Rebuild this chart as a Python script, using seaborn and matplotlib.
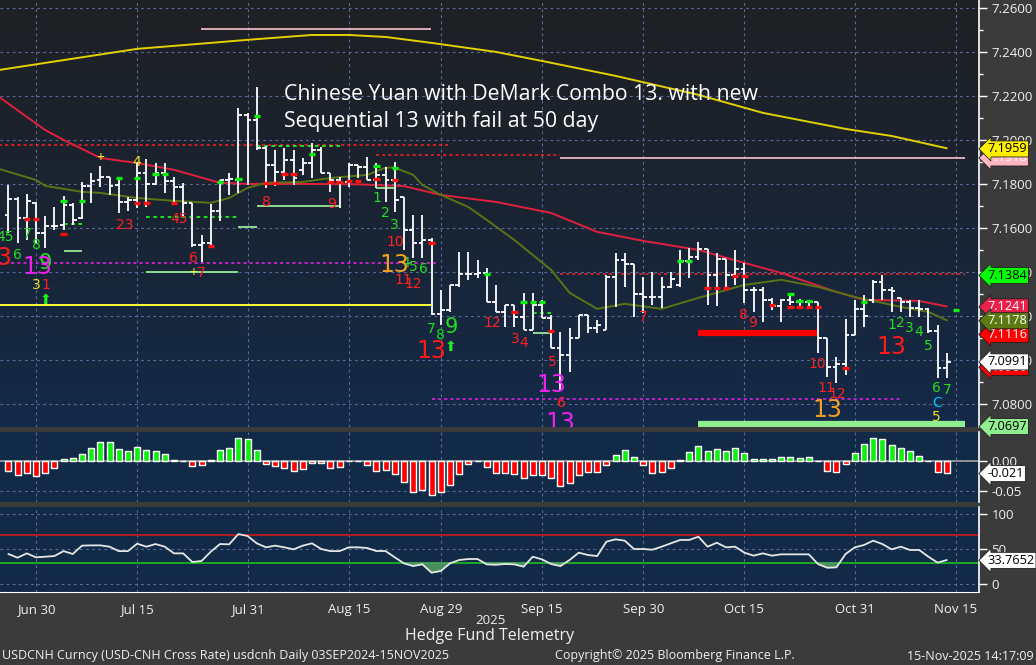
import numpy as np
import pandas as pd
import matplotlib
matplotlib.use("Agg")
import matplotlib.pyplot as plt
import seaborn as sns
from matplotlib.colors import LinearSegmentedColormap

# ---------------- data ----------------
dates = pd.bdate_range("2025-06-25", "2025-11-14")

opens = [7.1659, 7.1732, 7.1645, 7.1714, 7.1577, 7.1609, 7.1614, 7.1705, 7.1645, 7.1791,
         7.1818, 7.1832, 7.1796, 7.1718, 7.1727, 7.1850, 7.1800, 7.1850, 7.1814, 7.1786,
         7.1714, 7.1523, 7.1532, 7.1677, 7.1818, 7.1818, 7.2114, 7.2091, 7.1964, 7.1886,
         7.1855, 7.1909, 7.1864, 7.1895, 7.1955, 7.1850, 7.1818, 7.1809, 7.1886, 7.1877,
         7.1818, 7.1841, 7.1818, 7.1741, 7.1591, 7.1532, 7.1545, 7.1209, 7.1227, 7.1341,
         7.1391, 7.1391, 7.1395, 7.1264, 7.1218, 7.1250, 7.1195, 7.1136, 7.1250, 7.1191,
         7.1055, 7.1023, 7.1100, 7.1205, 7.1145, 7.1136, 7.1377, 7.1455, 7.1436, 7.1300,
         7.1286, 7.1286, 7.1332, 7.1341, 7.1450, 7.1468, 7.1505, 7.1386, 7.1459, 7.1386,
         7.1414, 7.1318, 7.1318, 7.1273, 7.1245, 7.1273, 7.1264, 7.1264, 7.1264, 7.1100,
         7.0968, 7.0982, 7.1114, 7.1232, 7.1273, 7.1355, 7.1318, 7.1282, 7.1264, 7.1236,
         7.1232, 7.1132, 7.0964]
highs = [7.1796, 7.1741, 7.1755, 7.1718, 7.1655, 7.1696, 7.1746, 7.1714, 7.1809, 7.1850,
         7.1882, 7.1832, 7.1827, 7.1741, 7.1900, 7.1914, 7.1895, 7.1895, 7.1832, 7.1805,
         7.1714, 7.1568, 7.1709, 7.1818, 7.1850, 7.2145, 7.2123, 7.2241, 7.1973, 7.1955,
         7.1964, 7.1955, 7.1918, 7.1986, 7.1968, 7.1850, 7.1832, 7.1895, 7.1886, 7.1923,
         7.1895, 7.1877, 7.1900, 7.1741, 7.1659, 7.1659, 7.1555, 7.1318, 7.1341, 7.1491,
         7.1491, 7.1455, 7.1418, 7.1341, 7.1250, 7.1250, 7.1305, 7.1305, 7.1273, 7.1205,
         7.1127, 7.1145, 7.1205, 7.1205, 7.1182, 7.1386, 7.1486, 7.1486, 7.1436, 7.1377,
         7.1400, 7.1377, 7.1400, 7.1500, 7.1509, 7.1536, 7.1505, 7.1486, 7.1459, 7.1500,
         7.1441, 7.1332, 7.1332, 7.1282, 7.1277, 7.1305, 7.1277, 7.1273, 7.1264, 7.1100,
         7.1014, 7.1186, 7.1273, 7.1296, 7.1364, 7.1386, 7.1332, 7.1282, 7.1273, 7.1273,
         7.1236, 7.1159, 7.1032]
lows = [7.1577, 7.1532, 7.1545, 7.1532, 7.1509, 7.1591, 7.1591, 7.1614, 7.1641, 7.1714,
        7.1786, 7.1750, 7.1668, 7.1677, 7.1691, 7.1696, 7.1796, 7.1759, 7.1718, 7.1655,
        7.1514, 7.1445, 7.1514, 7.1632, 7.1750, 7.1759, 7.1796, 7.1955, 7.1782, 7.1791,
        7.1818, 7.1796, 7.1841, 7.1827, 7.1850, 7.1764, 7.1691, 7.1786, 7.1827, 7.1818,
        7.1782, 7.1718, 7.1673, 7.1500, 7.1464, 7.1464, 7.1205, 7.1159, 7.1218, 7.1332,
        7.1364, 7.1373, 7.1264, 7.1218, 7.1150, 7.1150, 7.1136, 7.1136, 7.1191, 7.1055,
        7.0864, 7.0946, 7.1100, 7.1123, 7.1123, 7.1136, 7.1241, 7.1332, 7.1195, 7.1214,
        7.1250, 7.1236, 7.1327, 7.1332, 7.1373, 7.1455, 7.1250, 7.1245, 7.1332, 7.1341,
        7.1259, 7.1218, 7.1173, 7.1227, 7.1173, 7.1250, 7.1241, 7.1241, 7.1032, 7.0923,
        7.0896, 7.0932, 7.1114, 7.1150, 7.1259, 7.1273, 7.1218, 7.1218, 7.1195, 7.1195,
        7.1123, 7.0918, 7.0918]
closes = [7.1732, 7.1645, 7.1723, 7.1577, 7.1609, 7.1609, 7.1705, 7.1636, 7.1791, 7.1814,
          7.1832, 7.1791, 7.1718, 7.1727, 7.1850, 7.1800, 7.1850, 7.1814, 7.1786, 7.1714,
          7.1523, 7.1532, 7.1677, 7.1818, 7.1823, 7.2114, 7.2091, 7.1964, 7.1886, 7.1855,
          7.1909, 7.1827, 7.1895, 7.1955, 7.1850, 7.1818, 7.1809, 7.1886, 7.1877, 7.1818,
          7.1841, 7.1818, 7.1727, 7.1591, 7.1532, 7.1545, 7.1209, 7.1227, 7.1341, 7.1391,
          7.1391, 7.1395, 7.1264, 7.1218, 7.1250, 7.1195, 7.1136, 7.1250, 7.1191, 7.1055,
          7.1023, 7.1100, 7.1205, 7.1145, 7.1159, 7.1377, 7.1455, 7.1436, 7.1300, 7.1286,
          7.1286, 7.1332, 7.1368, 7.1450, 7.1468, 7.1505, 7.1386, 7.1459, 7.1386, 7.1414,
          7.1318, 7.1318, 7.1273, 7.1245, 7.1273, 7.1264, 7.1264, 7.1264, 7.1100, 7.0968,
          7.0982, 7.1114, 7.1232, 7.1200, 7.1355, 7.1318, 7.1314, 7.1264, 7.1236, 7.1232,
          7.1132, 7.0964, 7.0991]

# moving averages (bar index, value)
ma200_idx = [-1, 4, 14, 22, 26, 33, 37, 41, 46, 53, 58, 66, 75, 82, 91, 96, 102]
ma200 = [7.2318, 7.2350, 7.2414, 7.2441, 7.2455, 7.2477, 7.2477, 7.2468, 7.2441, 7.2400,
         7.2359, 7.2291, 7.2205, 7.2123, 7.2050, 7.2018, 7.1962]
ma100_idx = [-1, 2, 4, 6, 10, 14, 18, 23, 26, 32, 38, 43, 47, 53, 59, 64, 69, 75, 80, 84,
             90, 93, 99, 102]
ma100 = [7.2195, 7.2105, 7.2045, 7.2000, 7.1918, 7.1895, 7.1864, 7.1805, 7.1800, 7.1800,
         7.1798, 7.1790, 7.1750, 7.1718, 7.1668, 7.1582, 7.1541, 7.1500, 7.1441, 7.1395,
         7.1309, 7.1273, 7.1268, 7.1243]
ma50_idx = [-1, 3, 4, 8, 10, 14, 18, 22, 24, 26, 28, 32, 35, 39, 41, 42, 44, 45, 47, 50,
            52, 55, 59, 61, 64, 67, 71, 75, 80, 84, 88, 92, 97, 100, 102]
ma50 = [7.1868, 7.1818, 7.1791, 7.1764, 7.1759, 7.1736, 7.1723, 7.1714, 7.1736, 7.1782,
        7.1805, 7.1809, 7.1827, 7.1841, 7.1874, 7.1874, 7.1841, 7.1795, 7.1750, 7.1695,
        7.1636, 7.1545, 7.1409, 7.1305, 7.1232, 7.1255, 7.1232, 7.1282, 7.1341, 7.1364,
        7.1332, 7.1286, 7.1241, 7.1218, 7.1180]

macd_hist = [-0.0161, -0.0233, -0.0206, -0.0244, -0.0206, -0.0111, 0.0033, 0.0050, 0.0117, 0.0211,
             0.0317, 0.0317, 0.0200, 0.0167, 0.0233, 0.0183, 0.0167, 0.0117, 0.0017, 0.0005,
             -0.0078, -0.0061, 0.0017, 0.0183, 0.0217, 0.0383, 0.0367, 0.0183, -0.0044, -0.0078,
             -0.0111, -0.0161, -0.0128, -0.0028, -0.0028, -0.0111, -0.0094, 0.0, 0.0, -0.0061,
             -0.0161, -0.0144, -0.0211, -0.0344, -0.0511, -0.0478, -0.0567, -0.0511, -0.0394, -0.0211,
             -0.0044, 0.0, -0.0094, -0.0194, -0.0194, -0.0211, -0.0278, -0.0228, -0.0228, -0.0278,
             -0.0411, -0.0361, -0.0228, -0.0178, -0.0178, -0.0061, 0.0100, 0.0183, 0.0067, -0.0061,
             -0.0194, -0.0178, -0.0111, 0.0017, 0.0150, 0.0250, 0.0167, 0.0200, 0.0167, 0.0217,
             0.0133, 0.0033, 0.0033, 0.0033, 0.0067, 0.0067, 0.0050, 0.0067, 0.0, -0.0161,
             -0.0178, -0.0044, 0.0133, 0.0283, 0.0383, 0.0367, 0.0267, 0.0217, 0.0167, 0.0083,
             0.0, -0.0178, -0.0194]

rsi = [42.9, 37.6, 43.8, 38.1, 39.0, 40.0, 47.0, 42.9, 54.8, 55.2, 55.2, 53.3, 47.0, 47.0, 57.6,
       53.3, 57.1, 53.3, 43.8, 43.8, 31.4, 32.9, 46.2, 57.1, 56.7, 71.4, 68.6, 58.1, 52.4, 54.8,
       52.4, 49.5, 54.8, 58.1, 50.0, 47.0, 47.0, 52.4, 52.4, 51.4, 47.1, 47.1, 38.1, 29.5, 25.7,
       28.1, 16.2, 18.6, 29.5, 34.3, 35.7, 35.7, 28.1, 27.6, 28.6, 28.1, 24.8, 39.0, 35.2, 28.6,
       25.7, 34.3, 44.8, 41.4, 40.0, 60.5, 63.8, 61.9, 50.0, 50.0, 49.0, 53.3, 58.1, 62.9, 62.9,
       67.6, 53.3, 59.0, 52.4, 53.3, 44.8, 40.5, 43.8, 40.5, 42.4, 42.4, 42.4, 42.4, 28.6, 23.3,
       23.8, 42.9, 52.4, 55.7, 61.9, 57.1, 49.5, 53.3, 48.6, 48.6, 39.0, 30.5, 34.3]

tick_dates = ["2025-06-30", "2025-07-15", "2025-07-31", "2025-08-15", "2025-08-29",
              "2025-09-15", "2025-09-30", "2025-10-15", "2025-10-31", "2025-11-15"]
tick_labels = ["Jun 30", "Jul 15", "Jul 31", "Aug 15", "Aug 29",
               "Sep 15", "Sep 30", "Oct 15", "Oct 31", "Nov 15"]

# DeMark counts: (bar index, price, label)
counts_green = [(-0.4, 7.1559, "45"), (2.0, 7.1573, "7"), (3.1, 7.1523, "8"), (1.0, 7.1477, "6"),
                (40.1, 7.1736, "1"), (41.0, 7.1668, "2"), (41.9, 7.1614, "3"), (43.2, 7.1441, "4"),
                (44.0, 7.1423, "5"), (45.1, 7.1414, "6"), (46.0, 7.1141, "7"), (47.0, 7.1114, "8"),
                (96.0, 7.1159, "1"), (96.9, 7.1168, "2"), (97.9, 7.1145, "3"), (98.9, 7.1127, "4"),
                (100.0, 7.1064, "5"), (100.9, 7.0873, "6"), (102.0, 7.0864, "7")]
nines_green = [(4.0, 7.1441, "9"), (48.1, 7.1150, "9")]
counts_red = [(4.1, 7.1341, "1"), (12.6, 7.1614, "23"), (18.5, 7.1641, "45"), (20.1, 7.1464, "6"),
              (21.0, 7.1395, "7"), (28.1, 7.1718, "8"), (35.1, 7.1709, "9"), (42.0, 7.1536, "10"),
              (42.9, 7.1364, "11"), (44.0, 7.1345, "12"), (52.6, 7.1168, "12"), (55.1, 7.1095, "3"),
              (56.0, 7.1077, "4"), (59.1, 7.0991, "5"), (60.1, 7.0805, "6"), (69.0, 7.1195, "7"),
              (79.9, 7.1205, "8"), (80.9, 7.1168, "9"), (87.9, 7.0982, "10"), (88.9, 7.0873, "11"),
              (90.1, 7.0845, "12")]
thirteens_red = [(-1.2, 7.1464, "13"), (46.0, 7.1041, "13"), (96.0, 7.1059, "13")]
thirteens_magenta = [(3.1, 7.1423, "13"), (59.0, 7.0886, "13"), (60.0, 7.0714, "13")]
thirteens_orange = [(42.0, 7.1432, "13"), (89.0, 7.0773, "13")]
counts_yellow = [(3.0, 7.1341, "3"), (14.0, 7.1900, "4"), (100.9, 7.0741, "5")]
counts_cyan = [(100.9, 7.0805, "C")]
plus_marks = [(10, 7.1914), (20.1, 7.1395)]
arrows_up = [(4.0, 7.1273), (48.0, 7.1059)]

dash_green = [(6, 7.1723), (8, 7.1723), (12, 7.1827), (14, 7.1827), (16, 7.1845), (17, 7.1845),
              (23, 7.1809), (25, 7.1823), (27, 7.2109), (33, 7.1936), (40, 7.1882), (42, 7.1873),
              (52, 7.1391), (56, 7.1264), (57, 7.1264), (58, 7.1264), (73, 7.1450), (74, 7.1450),
              (85, 7.1300), (86, 7.1268), (87, 7.1268), (93, 7.1264), (103, 7.1227)]
dash_red = [(2, 7.1641), (3, 7.1641), (6, 7.1573), (14, 7.1714), (15, 7.1714), (18, 7.1714),
            (22, 7.1518), (28, 7.1805), (29, 7.1805), (30, 7.1845), (31, 7.1845), (35, 7.1809),
            (36, 7.1809), (37, 7.1814), (38, 7.1814), (40, 7.1823), (42, 7.1818), (46, 7.1532),
            (55, 7.1218), (59, 7.1132), (76, 7.1327), (77, 7.1327), (78, 7.1327), (79, 7.1382),
            (80, 7.1382), (83, 7.1250), (85, 7.1241), (86, 7.1241), (87, 7.1241), (88, 7.1241),
            (91, 7.0964)]

# horizontal levels: (price, first bar, last bar)
levels_pink = [(7.2505, 20.9, 45.9), (7.1918, 60.0, 104.0)]
levels_red_dot = [(7.1977, -1.0, 48.0), (7.1932, 40.0, 60.0), (7.1391, 60.0, 104.0)]
levels_magenta_dot = [(7.1441, -1.0, 46.7), (7.0823, 46.0, 97.0)]
levels_yellow = [(7.1250, -1.0, 46.0)]
levels_lightgreen = [(7.1400, 15.0, 25.0), (7.1700, 27.0, 36.0), (7.1605, 25.0, 27.0),
                     (7.1495, 6.0, 8.0), (7.1123, 57.0, 59.0), (7.1782, 40.0, 42.0)]
levels_green_dot = [(7.1650, 15.0, 25.0), (7.1973, 27.0, 36.0), (7.1618, 6.0, 8.0), (7.1214, 57.0, 59.0)]
level_red_bar = (7.1123, 75.0, 88.0)
level_green_bar = (7.0709, 75.0, 104.0)

# right-hand price tags: (value, text, face, text colour)
price_tags = [(7.1918, "7.1918", "#ffb6c1", "#ffffff"), (7.1959, "7.1959", "#ffee00", "#000000"),
              (7.1384, "7.1384", "#00ff00", "#000000"), (7.1241, "7.1241", "#e8204a", "#ffffff"),
              (7.1116, "7.1116", "#ff0000", "#ffffff"), (7.1178, "7.1178", "#5c7a12", "#ffffff"),
              (7.0966, "7.0966", "#ff0000", "#ffffff"), (7.0991, "7.0991", "#ffffff", "#000000"),
              (7.0697, "7.0697", "#90ee90", "#000000")]

# ---------------- drawing ----------------
sns.set_style("dark")
plt.rcParams["font.family"] = ["Open Sans", "DejaVu Sans"]

FIG_BG = "#3b3b3b"
GRID = "#5a6a9a"
W, H = 1036, 665
fig = plt.figure(figsize=(W / 100, H / 100), dpi=100, facecolor=FIG_BG)
right = 979 / W
ax = fig.add_axes([0, 1 - 427 / H, right, 427 / H])
axh = fig.add_axes([0, 1 - 502 / H, right, 70 / H], sharex=ax)
axr = fig.add_axes([0, 1 - 592 / H, right, 85 / H], sharex=ax)

idx = np.arange(len(closes))

grad = LinearSegmentedColormap.from_list("bg", ["#132a49", "#1a2433", "#1f2023"])
ax.imshow(np.linspace(0, 1, 256).reshape(-1, 1), extent=[0, 1, 0, 1], transform=ax.transAxes,
          cmap=grad, origin="lower", aspect="auto", zorder=0)
for a in (axh, axr):
    a.set_facecolor("#112a47")

for a in (ax, axh, axr):
    for s in ("left", "top", "bottom"):
        a.spines[s].set_visible(False)
    a.spines["right"].set_color("white")
    a.spines["right"].set_linewidth(1.2)
    a.yaxis.tick_right()
    a.grid(True, color=GRID, linestyle=(0, (2.5, 3)), lw=0.8)
    a.set_axisbelow(True)
    a.tick_params(axis="y", colors="white", labelcolor="#f0f0f0", labelsize=9.5,
                  direction="out", length=6, width=1, pad=3)
    a.tick_params(axis="y", which="minor", colors="white", length=3, width=1)
axr.spines["bottom"].set_visible(True)
axr.spines["bottom"].set_color("white")

# ---- price panel ----
for lv, a0, a1 in levels_pink:
    ax.hlines(lv, a0, a1, color="#f5c6cc", lw=1.2, zorder=2)
for lv, a0, a1 in levels_red_dot:
    ax.hlines(lv, a0, a1, color="#ff2020", lw=1.1, linestyles=(0, (2, 2)), zorder=2)
for lv, a0, a1 in levels_magenta_dot:
    ax.hlines(lv, a0, a1, color="#ee20ee", lw=1.1, linestyles=(0, (2, 2)), zorder=2)
for lv, a0, a1 in levels_yellow:
    ax.hlines(lv, a0, a1, color="#ffff30", lw=1.4, zorder=2)
for lv, a0, a1 in levels_lightgreen:
    ax.hlines(lv, a0, a1, color="#98e898", lw=1.3, zorder=2)
for lv, a0, a1 in levels_green_dot:
    ax.hlines(lv, a0, a1, color="#20f020", lw=1.3, linestyles=(0, (2, 2)), zorder=2)
ax.hlines(level_red_bar[0], level_red_bar[1], level_red_bar[2], color="#ff0000", lw=4.5, zorder=2)
ax.hlines(level_green_bar[0], level_green_bar[1], level_green_bar[2], color="#90ee90", lw=4.5, zorder=2)

sns.lineplot(x=ma200_idx, y=ma200, ax=ax, color="#e2d000", lw=1.4, zorder=3)
sns.lineplot(x=ma100_idx, y=ma100, ax=ax, color="#e0203c", lw=1.4, zorder=3)
sns.lineplot(x=ma50_idx, y=ma50, ax=ax, color="#5a7414", lw=1.4, zorder=3)

ax.vlines(idx, lows, highs, color="white", lw=1.3, zorder=4)
ax.hlines(opens, idx - 0.42, idx, color="white", lw=1.3, zorder=4)
ax.hlines(closes, idx, idx + 0.42, color="white", lw=1.3, zorder=4)

for i, p in dash_green:
    ax.hlines(p, i - 0.35, i + 0.35, color="#10f010", lw=2.4, zorder=5)
for i, p in dash_red:
    ax.hlines(p, i - 0.35, i + 0.35, color="#ff1010", lw=2.4, zorder=5)


def put(items, color, size):
    for i, p, s in items:
        ax.text(i, p, s, color=color, fontsize=size, ha="center", va="center",
                zorder=6, clip_on=True, family=["DejaVu Sans"])


put(counts_green, "#22dd22", 10)
put(nines_green, "#22dd22", 15)
put(counts_red, "#ff2020", 10)
put(thirteens_red, "#ff1a1a", 17)
put(thirteens_magenta, "#ee22ee", 17)
put(thirteens_orange, "#f0a020", 17)
put(counts_yellow, "#f0e020", 10)
put(counts_cyan, "#00c8ff", 10)
for i, p in plus_marks:
    ax.text(i, p, "+", color="#ffff30", fontsize=10, ha="center", va="center", zorder=6)
for i, p in arrows_up:
    ax.text(i, p, "⬆", color="#20f020", fontsize=10, ha="center", va="center", zorder=6,
            family=["DejaVu Sans"])

ax.set_xlim(-0.91, 105.5)
ax.set_ylim(7.0695, 7.2636)
ax.set_yticks(np.arange(7.08, 7.261, 0.02))
ax.set_yticklabels([f"{v:.4f}" for v in np.arange(7.08, 7.261, 0.02)])
ax.set_yticks(np.arange(7.07, 7.261, 0.01), minor=True)
ax.set_ylabel("")

fig.text(284 / W, 1 - 95 / H, "Chinese Yuan with DeMark Combo 13. with new", color="white",
         fontsize=15.3, ha="left", va="center", zorder=7)
fig.text(284 / W, 1 - 121 / H, "Sequential 13 with fail at 50 day", color="white",
         fontsize=15.3, ha="left", va="center", zorder=7)


def tag(a, value, text, fc, tc):
    a.annotate(text, xy=(1.0, value), xycoords=("axes fraction", "data"),
               xytext=(6, 0), textcoords="offset points", ha="left", va="center",
               fontsize=9.2, color=tc, annotation_clip=False, zorder=20,
               bbox=dict(boxstyle="larrow,pad=0.12", fc=fc, ec="#202020", lw=0.6))


for v, t, fc, tc in price_tags:
    tag(ax, v, t, fc, tc)

# ---- histogram panel ----
hist = np.array(macd_hist)
axh.bar(idx, hist, width=0.66, color=np.where(hist >= 0, "#10f010", "#ff0000"), zorder=3)
axh.axhline(0, color="#9a9a9a", lw=1.3, zorder=2)
axh.set_ylim(-0.0683, 0.0483)
axh.set_yticks([-0.05, 0.0])
axh.set_yticklabels(["-0.05", "0.00"])
tag(axh, -0.021, "-0.021", "#ffffff", "#000000")

# ---- RSI panel ----
rsi_arr = np.array(rsi)
axr.axhline(70, color="#d01818", lw=1.2, zorder=2)
axr.axhline(30, color="#20c020", lw=1.2, zorder=2)
axr.fill_between(idx, rsi_arr, 30, where=rsi_arr < 30, interpolate=True,
                 color="#4e9a62", alpha=0.9, zorder=2)
sns.lineplot(x=idx, y=rsi_arr, ax=axr, color="#e6e6e6", lw=1.3, zorder=3)
axr.set_ylim(-11.4, 110)
axr.set_yticks([0, 50, 100])
axr.set_ylabel("")
tag(axr, 33.7652, "33.7652", "#ffffff", "#000000")

# ---- x axis ----
tick_pos = [dates.searchsorted(pd.Timestamp(d)) for d in tick_dates]
axr.set_xticks(tick_pos)
axr.set_xticklabels(tick_labels)
mids = [(tick_pos[k] + tick_pos[k + 1]) / 2 for k in range(len(tick_pos) - 1)]
axr.set_xticks(mids, minor=True)
axr.tick_params(axis="x", which="both", colors="white", labelcolor="#f0f0f0", labelsize=9.5,
                direction="out", length=5, pad=3)
for a in (ax, axh):
    a.tick_params(axis="x", which="both", bottom=False, labelbottom=False)
axr.set_xlim(-0.91, 105.5)

fig.text(490 / W, 1 - 620 / H, "2025", color="#f0f0f0", fontsize=9.5, ha="center", va="center")
fig.text(490 / W, 1 - 636 / H, "Hedge Fund Telemetry", color="#f0f0f0", fontsize=11.5,
         ha="center", va="center")
fig.text(2 / W, 1 - 656 / H, "USDCNH Curncy (USD-CNH Cross Rate) usdcnh Daily 03SEP2024-15NOV2025",
         color="#f0f0f0", fontsize=9, ha="left", va="center")
fig.text(555 / W, 1 - 656 / H, "Copyright© 2025 Bloomberg Finance L.P.", color="#f0f0f0",
         fontsize=9, ha="left", va="center")
fig.text(1034 / W, 1 - 656 / H, "15-Nov-2025 14:17:09", color="#f0f0f0", fontsize=9,
         ha="right", va="center")

fig.savefig("out.png", dpi=100, facecolor=FIG_BG)
